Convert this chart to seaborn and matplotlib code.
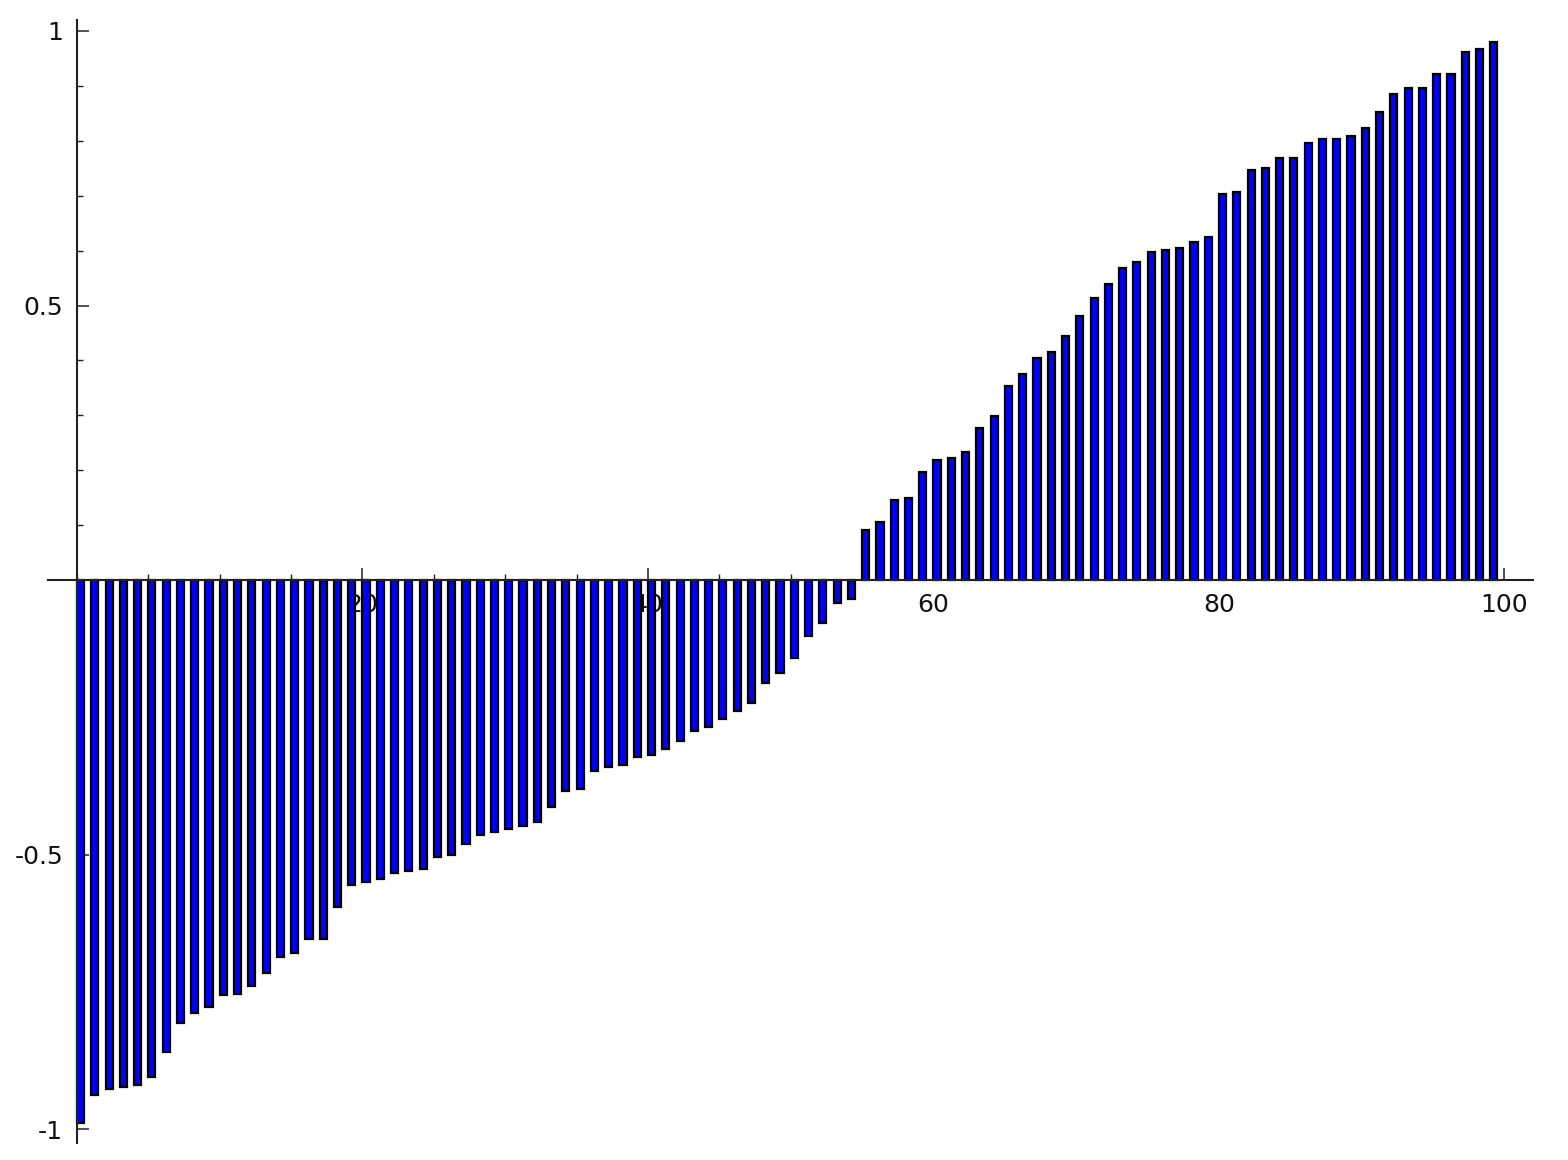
import numpy as np
import matplotlib
matplotlib.use("Agg")
import matplotlib.pyplot as plt
from matplotlib.ticker import MultipleLocator, FixedLocator
import seaborn as sns

# sorted values (bar i drawn from i to i+0.5)
neg_values = [
    -0.989, -0.938, -0.927, -0.924, -0.920, -0.904, -0.859, -0.807, -0.789, -0.777,
    -0.756, -0.753, -0.740, -0.716, -0.686, -0.680, -0.654, -0.654, -0.595, -0.556,
    -0.550, -0.545, -0.533, -0.530, -0.526, -0.504, -0.501, -0.480, -0.464, -0.458,
    -0.454, -0.448, -0.440, -0.414, -0.384, -0.381, -0.348, -0.341, -0.337, -0.323,
    -0.319, -0.308, -0.293, -0.275, -0.268, -0.253, -0.239, -0.224, -0.187, -0.169,
    -0.141, -0.101, -0.078, -0.041, -0.035,
]
pos_values = [
    0.091, 0.106, 0.146, 0.149, 0.197, 0.219, 0.222, 0.233, 0.277, 0.299,
    0.353, 0.375, 0.404, 0.415, 0.444, 0.481, 0.514, 0.539, 0.568, 0.579,
    0.597, 0.601, 0.604, 0.616, 0.625, 0.703, 0.706, 0.746, 0.750, 0.768,
    0.768, 0.796, 0.804, 0.804, 0.808, 0.823, 0.852, 0.885, 0.896, 0.896,
    0.922, 0.922, 0.961, 0.968, 0.979,
]
values = np.array(neg_values + pos_values)

x_ticks = [20, 40, 60, 80, 100]
x_labels = ["20", "40", "60", "80", "100"]
y_ticks = [-1, -0.5, 0.5, 1]
y_labels = ["-1", "-0.5", "0.5", "1"]

BAR_WIDTH = 0.5
centers = np.arange(len(values)) + BAR_WIDTH / 2

sns.set_style("white")
plt.rcParams["font.family"] = ["DejaVu Sans"]

fig = plt.figure(figsize=(15.68, 11.6), dpi=100)
ax = fig.add_axes([0.0306, 0.0147, 0.9471, 0.9681])

sns.barplot(x=centers, y=values, native_scale=True, width=BAR_WIDTH,
            color="#0000ff", saturation=1, edgecolor="black", linewidth=1.6,
            ax=ax)

ax.set_xlim(-2.03, 102.0)
ax.set_ylim(-1.025, 1.02)

# sage-like axes crossing at the origin
for side in ["top", "right"]:
    ax.spines[side].set_visible(False)
for side in ["left", "bottom"]:
    ax.spines[side].set_position(("data", 0))
    ax.spines[side].set_linewidth(1.5)
    ax.spines[side].set_color("#222222")

ax.xaxis.set_major_locator(FixedLocator(x_ticks))
ax.set_xticklabels(x_labels)
ax.xaxis.set_minor_locator(MultipleLocator(5))
ax.yaxis.set_major_locator(FixedLocator(y_ticks))
ax.set_yticklabels(y_labels)
ax.yaxis.set_minor_locator(MultipleLocator(0.1))

ax.tick_params(which="major", direction="in", length=8.5, width=1.1,
               labelsize=18, color="#222222", labelcolor="#111111")
ax.tick_params(which="minor", direction="in", length=4.3, width=1.0,
               color="#222222")
ax.tick_params(axis="x", which="major", pad=9)
ax.tick_params(axis="y", which="major", pad=10)
ax.tick_params(bottom=True, left=True, which="both")
ax.set_xlabel("")
ax.set_ylabel("")
ax.set_axisbelow(True)

fig.savefig("out.png", dpi=100)
